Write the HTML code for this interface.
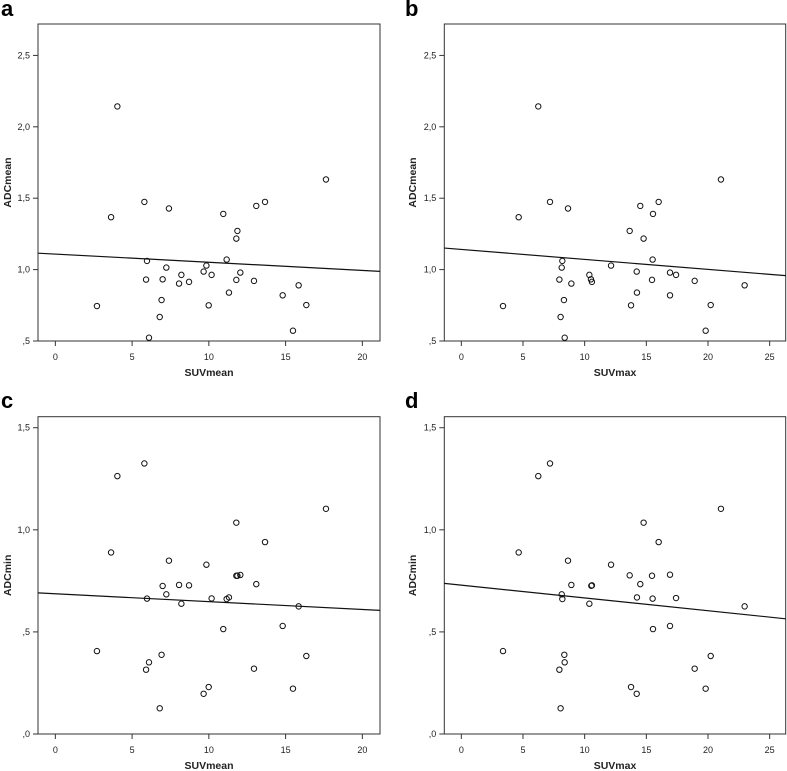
<!DOCTYPE html>
<html><head><meta charset="utf-8"><style>
html,body{margin:0;padding:0;background:#fff;}
svg{display:block;font-family:"Liberation Sans",Arial,sans-serif;}
</style></head><body>
<svg id="fig" width="787" height="771" viewBox="0 0 787 771"></svg>
<script>
// Panel a: ADCmean vs SUVmean
const aX = [4.04,3.63,2.71,5.80,5.97,5.91,6.10,7.40,7.23,6.99,6.92,6.80,8.21,8.06,8.71,9.66,9.84,10.18,9.99,10.94,11.16,11.31,11.86,11.79,11.79,12.05,12.94,13.09,13.66,14.81,15.48,15.85,16.35,17.63];
const aY = [2.143,1.367,0.745,1.474,1.061,0.930,0.523,1.428,1.014,0.932,0.787,0.668,0.963,0.902,0.914,0.986,1.028,0.963,0.750,1.390,1.070,0.839,1.271,1.217,0.928,0.979,0.921,1.446,1.474,0.820,0.572,0.890,0.752,1.631];
// Panel b: ADCmean vs SUVmax
const bX = [6.24,4.65,3.38,7.19,8.65,21.05,16.0,14.51,15.54,13.65,14.78,15.51,8.19,12.14,8.14,14.22,16.92,17.41,10.38,10.51,10.59,7.95,15.46,8.92,18.92,22.97,14.24,16.92,8.32,13.76,20.22,8.05,8.38,19.81];
const bY = [2.143,1.367,0.745,1.474,1.428,1.631,1.474,1.446,1.390,1.271,1.217,1.070,1.061,1.028,1.014,0.986,0.979,0.963,0.963,0.932,0.914,0.930,0.928,0.902,0.921,0.890,0.839,0.820,0.787,0.750,0.752,0.668,0.523,0.572];
// Panel c: ADCmin vs SUVmean
const cX = [5.80,4.04,17.63,11.79,13.66,3.63,7.40,9.84,11.79,11.86,12.05,13.09,6.99,8.06,8.71,7.23,5.97,10.18,11.16,11.31,8.21,15.85,10.94,14.81,2.71,6.92,16.35,6.10,5.91,12.94,9.99,9.66,15.48,6.80];
const cY = [1.325,1.263,1.103,1.035,0.940,0.889,0.849,0.829,0.775,0.775,0.779,0.734,0.725,0.730,0.728,0.684,0.663,0.664,0.661,0.669,0.638,0.625,0.514,0.529,0.406,0.388,0.382,0.351,0.315,0.320,0.230,0.197,0.222,0.126];
// Panel d: ADCmin vs SUVmax
const dX = [7.19,6.24,21.05,14.78,16.0,4.65,8.65,12.14,13.65,15.46,16.92,14.51,8.92,10.54,10.59,8.14,8.19,14.24,15.51,17.41,10.38,22.97,15.54,16.92,3.38,8.35,20.22,8.38,7.95,18.92,13.76,14.22,19.81,8.05];
const dY = [1.325,1.263,1.103,1.035,0.940,0.889,0.849,0.829,0.777,0.775,0.780,0.734,0.730,0.726,0.728,0.684,0.661,0.669,0.663,0.666,0.638,0.625,0.514,0.529,0.406,0.388,0.382,0.351,0.315,0.320,0.230,0.197,0.222,0.126];

const xTicksMean = [0,5,10,15,20];
const xTicksMax = [0,5,10,15,20,25];
const yTicksMean = [0.5,1.0,1.5,2.0,2.5];
const yTicksMeanLabels = [",5","1,0","1,5","2,0","2,5"];
const yTicksMin = [0,0.5,1.0,1.5];
const yTicksMinLabels = [",0",",5","1,0","1,5"];

const NS = "http://www.w3.org/2000/svg";
const svg = document.getElementById('fig');
function mk(tag, attrs, parent){
  const e = document.createElementNS(NS, tag);
  for (const k in attrs) e.setAttribute(k, attrs[k]);
  (parent||svg).appendChild(e);
  return e;
}
function fit(xs, ys){
  const n = xs.length;
  let mx=0,my=0; for(let i=0;i<n;i++){mx+=xs[i];my+=ys[i];} mx/=n; my/=n;
  let sxy=0,sxx=0; for(let i=0;i<n;i++){sxy+=(xs[i]-mx)*(ys[i]-my); sxx+=(xs[i]-mx)*(xs[i]-mx);}
  const b = sxx ? sxy/sxx : 0;
  return [my - b*mx, b];
}

function panel(cfg){
  const g = mk('g', {});
  
  
  const L=cfg.left, R=cfg.right, T=cfg.top, B=cfg.bottom;
  const sx = v => L + (v - cfg.xmin) / (cfg.xmax - cfg.xmin) * (R - L);
  const sy = v => B - (v - cfg.ymin) / (cfg.ymax - cfg.ymin) * (B - T);

  const lab = mk('text', {x: cfg.labelX, y: cfg.labelY, 'font-size': 22, 'font-weight': 'bold', fill: '#000'}, g);
  lab.textContent = cfg.letter;
  
  

  const box = mk('rect', {x: L, y: T, width: R - L, height: B - T, fill: '#fff', stroke: '#333', 'stroke-width': 1}, g);
  
  

  cfg.yTicks.forEach((v, i) => {
    const y = sy(v);
    const t = mk('line', {x1: L - 5, x2: L, y1: y, y2: y, stroke: '#333', 'stroke-width': 1}, g);
    
    
    const tx = mk('text', {x: L - 8, y: y + 3, 'font-size': 9, 'text-anchor': 'end', fill: '#222'}, g);
    tx.textContent = cfg.yLabels[i];
    
    
  });
  cfg.xTicks.forEach(v => {
    const x = sx(v);
    const t = mk('line', {x1: x, x2: x, y1: B, y2: B + 5, stroke: '#333', 'stroke-width': 1}, g);
    
    
    const tx = mk('text', {x: x, y: B + 19, 'font-size': 9, 'text-anchor': 'middle', fill: '#222'}, g);
    tx.textContent = String(v);
    
    
  });

  const xt = mk('text', {x: (L + R) / 2, y: B + 35, 'font-size': 10.5, 'font-weight': 'bold', 'text-anchor': 'middle', fill: '#222'}, g);
  xt.textContent = cfg.xTitle;
  
  
  const ytx = cfg.yTitleX, yty = (T + B) / 2;
  const yt = mk('text', {x: ytx, y: yty, 'font-size': 10.5, 'font-weight': 'bold', 'text-anchor': 'middle', fill: '#222', transform: 'rotate(-90 ' + ytx + ' ' + yty + ')'}, g);
  yt.textContent = cfg.yTitle;
  
  

  const [a, b] = fit(cfg.xs, cfg.ys);
  const ln = mk('line', {x1: L, y1: sy(a + b * cfg.xmin), x2: R, y2: sy(a + b * cfg.xmax), stroke: '#111', 'stroke-width': 1.2}, g);
  
  

  cfg.xs.forEach((xv, i) => {
    const c = mk('circle', {cx: sx(xv), cy: sy(cfg.ys[i]), r: 2.7, fill: 'none', stroke: '#111', 'stroke-width': 1}, g);
    
    
  });
}

panel({letter:'a', left:38, right:380, top:24, bottom:341, xmin:-1.13, xmax:21.15, ymin:0.5, ymax:2.72,
  xs:aX, ys:aY, xTicks:xTicksMean, yTicks:yTicksMean, yLabels:yTicksMeanLabels, xTitle:'SUVmean', yTitle:'ADCmean',
  labelX:1, labelY:16, yTitleX:11});
panel({letter:'b', left:444.3, right:785.7, top:24, bottom:341, xmin:-1.38, xmax:26.3, ymin:0.5, ymax:2.72,
  xs:bX, ys:bY, xTicks:xTicksMax, yTicks:yTicksMean, yLabels:yTicksMeanLabels, xTitle:'SUVmax', yTitle:'ADCmean',
  labelX:405, labelY:16, yTitleX:416});
panel({letter:'c', left:38, right:380, top:416.7, bottom:734, xmin:-1.13, xmax:21.15, ymin:0, ymax:1.554,
  xs:cX, ys:cY, xTicks:xTicksMean, yTicks:yTicksMin, yLabels:yTicksMinLabels, xTitle:'SUVmean', yTitle:'ADCmin',
  labelX:1, labelY:408, yTitleX:11});
panel({letter:'d', left:444.3, right:785.7, top:416.7, bottom:734, xmin:-1.38, xmax:26.3, ymin:0, ymax:1.554,
  xs:dX, ys:dY, xTicks:xTicksMax, yTicks:yTicksMin, yLabels:yTicksMinLabels, xTitle:'SUVmax', yTitle:'ADCmin',
  labelX:405, labelY:408, yTitleX:416});
</script>
</body></html>
